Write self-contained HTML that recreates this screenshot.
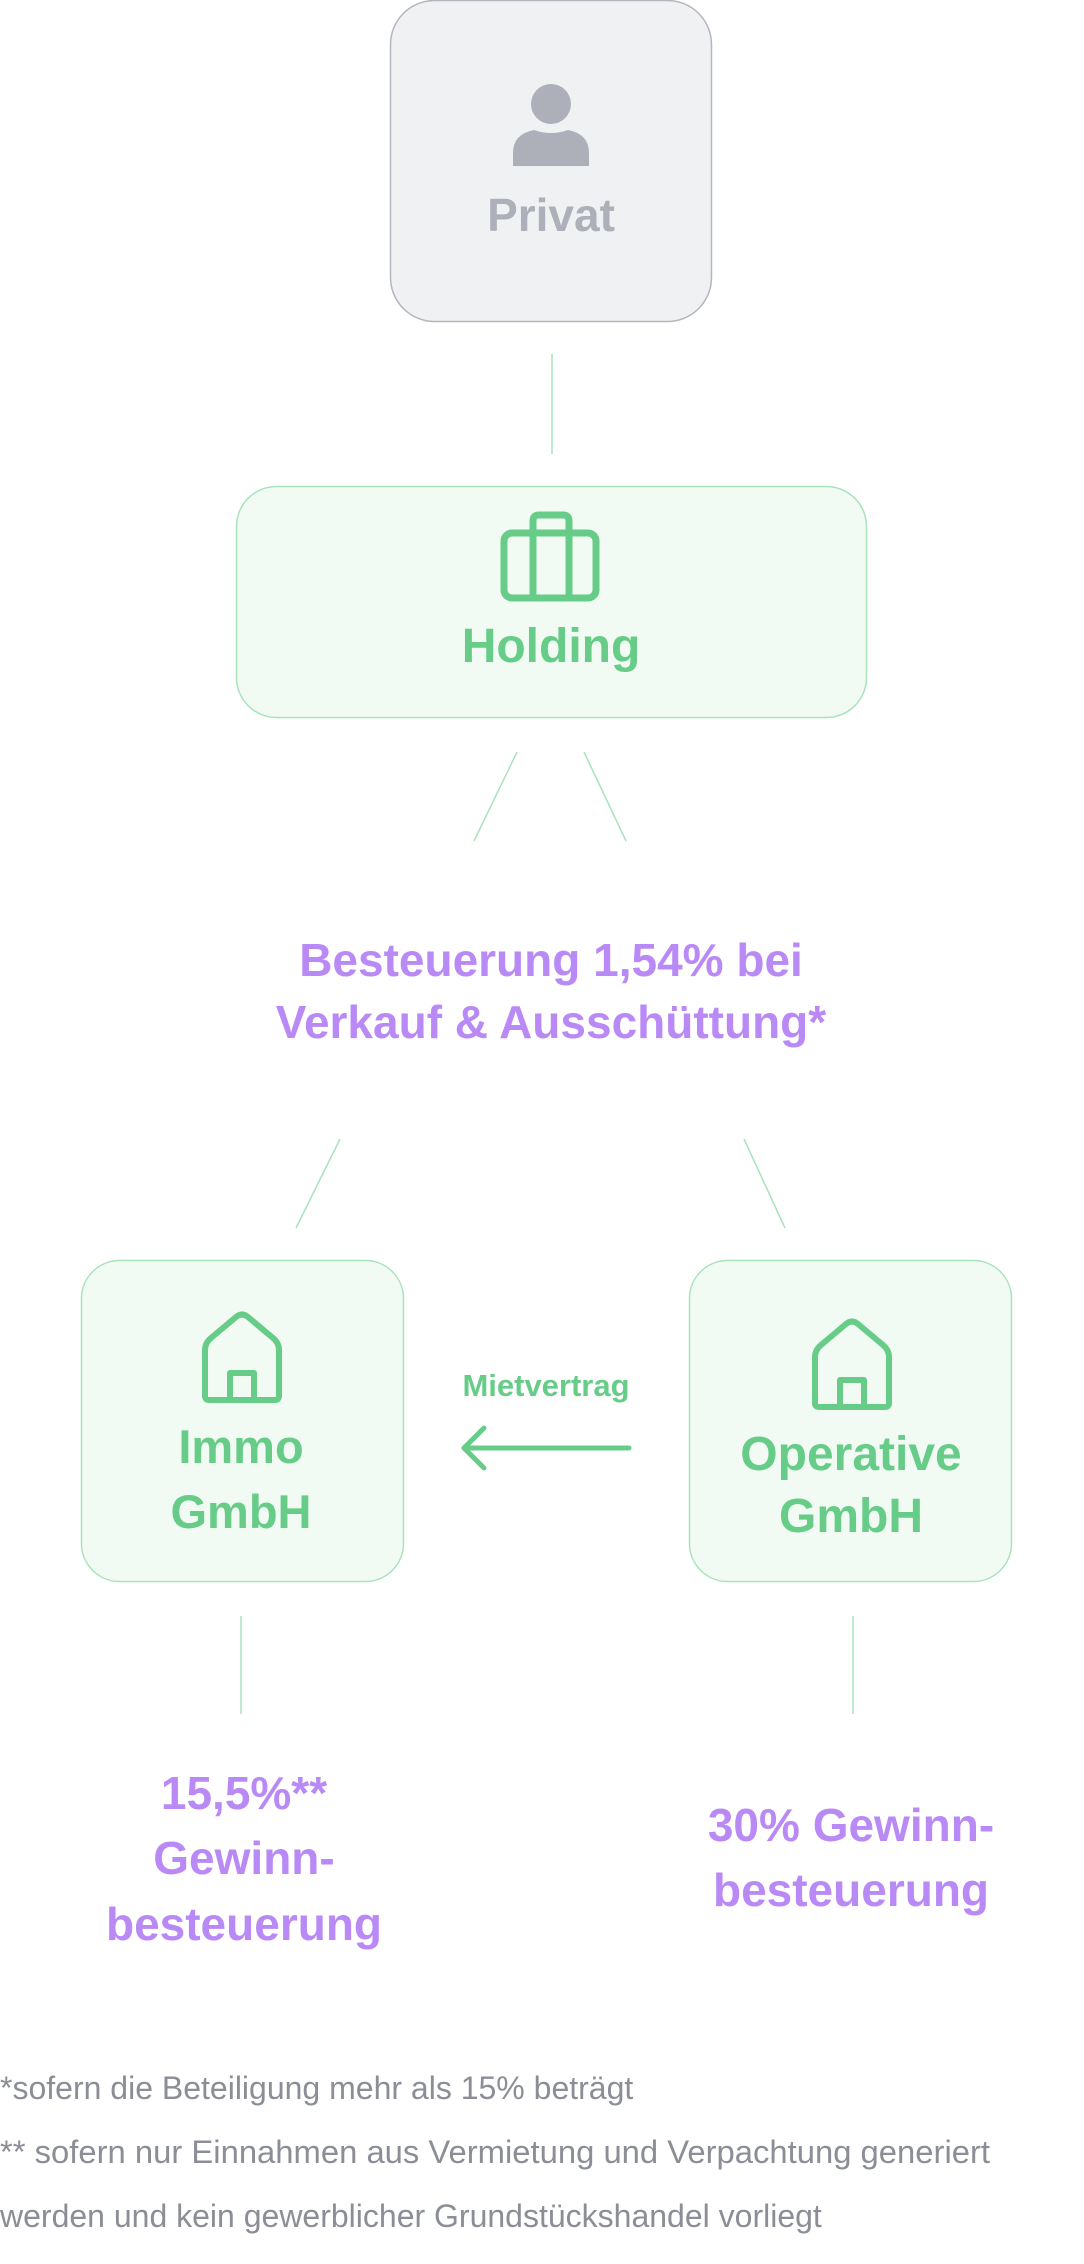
<!DOCTYPE html>
<html><head><meta charset="utf-8"><style>
html,body{margin:0;padding:0;background:#fff;}
svg{display:block;}
text{font-family:"Liberation Sans",sans-serif;}
</style></head><body>
<svg width="1084" height="2264" viewBox="0 0 1084 2264" xmlns="http://www.w3.org/2000/svg">
<!-- Privat -->
<rect x="390.5" y="0.5" width="321" height="321" rx="44" fill="#f0f1f3" stroke="#b3b6bd" stroke-width="1.5"/>
<circle cx="551" cy="104" r="20" fill="#adb0b8"/>
<path d="M513 166 L513 153 Q513 134 534 130 Q551 136 568 130 Q589 134 589 153 L589 166 Z" fill="#adb0b8"/>
<text x="551" y="231" text-anchor="middle" font-size="46" font-weight="bold" fill="#adb0b8">Privat</text>
<line x1="552" y1="354" x2="552" y2="454" stroke="#a8e3bc" stroke-width="1.5"/>
<!-- Holding -->
<rect x="236.5" y="486.5" width="630" height="231" rx="40" fill="#f1fbf4" stroke="#a8e3bc" stroke-width="1.5"/>
<g fill="none" stroke="#66cc88" stroke-width="7">
<rect x="504" y="533" width="92" height="65" rx="8"/>
<path d="M533 533 V521 Q533 515 539 515 H563 Q569 515 569 521 V533 M533 533 V598 M569 533 V598"/>
</g>
<text x="551" y="662" text-anchor="middle" font-size="48" font-weight="bold" fill="#66cc88">Holding</text>
<g stroke="#a8e3bc" stroke-width="1.5">
<line x1="517" y1="752" x2="474" y2="841"/>
<line x1="584" y1="752" x2="626" y2="841"/>
</g>
<text x="551" y="976" text-anchor="middle" font-size="46" font-weight="bold" fill="#b98af6">Besteuerung 1,54% bei</text>
<text x="551" y="1038" text-anchor="middle" font-size="46" font-weight="bold" fill="#b98af6">Verkauf &amp; Ausschüttung*</text>
<g stroke="#a8e3bc" stroke-width="1.5">
<line x1="340" y1="1139" x2="296" y2="1228"/>
<line x1="744" y1="1139" x2="785" y2="1228"/>
</g>
<!-- Immo -->
<rect x="81.5" y="1260.5" width="322" height="321" rx="38" fill="#f1fbf4" stroke="#a8e3bc" stroke-width="1.5"/>
<g fill="none" stroke="#66cc88" stroke-width="6" stroke-linejoin="round">
<path d="M205 1396 V1350 Q205 1343 211 1338 L236 1317 Q242 1312 248 1317 L273 1338 Q279 1343 279 1350 V1396 Q279 1400 275 1400 H209 Q205 1400 205 1396 Z"/>
<path d="M230 1400 V1373 H254 V1400"/>
</g>
<text x="241" y="1463" text-anchor="middle" font-size="47" font-weight="bold" fill="#66cc88">Immo</text>
<text x="241" y="1528" text-anchor="middle" font-size="47" font-weight="bold" fill="#66cc88">GmbH</text>
<!-- Operative -->
<rect x="689.5" y="1260.5" width="322" height="321" rx="38" fill="#f1fbf4" stroke="#a8e3bc" stroke-width="1.5"/>
<g fill="none" stroke="#66cc88" stroke-width="6" stroke-linejoin="round">
<path d="M815 1403 V1357 Q815 1350 821 1345 L846 1324 Q852 1319 858 1324 L883 1345 Q889 1350 889 1357 V1403 Q889 1407 885 1407 H819 Q815 1407 815 1403 Z"/>
<path d="M840 1407 V1380 H864 V1407"/>
</g>
<text x="851" y="1470" text-anchor="middle" font-size="48" font-weight="bold" fill="#66cc88">Operative</text>
<text x="851" y="1532" text-anchor="middle" font-size="48" font-weight="bold" fill="#66cc88">GmbH</text>
<!-- Mietvertrag -->
<text x="546" y="1396" text-anchor="middle" font-size="31" font-weight="bold" fill="#66cc88">Mietvertrag</text>
<g fill="none" stroke="#66cc88" stroke-width="5" stroke-linecap="round" stroke-linejoin="round">
<line x1="629" y1="1448" x2="464" y2="1448"/>
<path d="M484 1428 L464 1448 L484 1468"/>
</g>
<g stroke="#a8e3bc" stroke-width="1.5">
<line x1="241" y1="1616" x2="241" y2="1714"/>
<line x1="853" y1="1616" x2="853" y2="1714"/>
</g>
<text x="244" y="1809" text-anchor="middle" font-size="46" font-weight="bold" fill="#b98af6">15,5%**</text>
<text x="244" y="1874" text-anchor="middle" font-size="46" font-weight="bold" fill="#b98af6">Gewinn-</text>
<text x="244" y="1940" text-anchor="middle" font-size="46" font-weight="bold" fill="#b98af6">besteuerung</text>
<text x="851" y="1841" text-anchor="middle" font-size="46" font-weight="bold" fill="#b98af6">30% Gewinn-</text>
<text x="851" y="1906" text-anchor="middle" font-size="46" font-weight="bold" fill="#b98af6">besteuerung</text>
<g font-size="32" fill="#8b8e97">
<text x="0" y="2099">*sofern die Beteiligung mehr als 15% beträgt</text>
<text x="0" y="2163" textLength="990" lengthAdjust="spacingAndGlyphs">** sofern nur Einnahmen aus Vermietung und Verpachtung generiert</text>
<text x="0" y="2227">werden und kein gewerblicher Grundstückshandel vorliegt</text>
</g>
</svg>
</body></html>
